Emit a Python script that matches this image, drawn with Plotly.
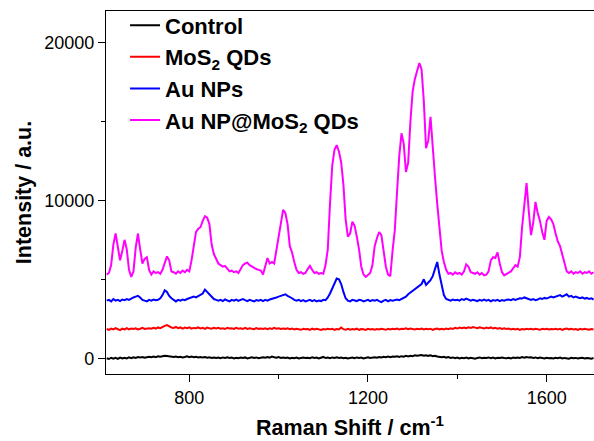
import plotly.graph_objects as go

# Raman shift grid (cm^-1), 5 cm^-1 steps
raman_shift = list(range(615, 1706, 5))

au_np_mos2 = [
    5300, 5400, 5900, 7200, 7900, 7100, 6200, 6800, 7500, 6900,   # 615
    5600, 5150, 5500, 7000, 7900, 6900, 6000, 6300, 6400, 5600,   # 665
    5300, 5500, 5400, 5450, 5350, 5600, 6100, 6450, 6200, 5500,   # 715
    5450, 5350, 5500, 5400, 5550, 5450, 5600, 5500, 6200, 7000,   # 765
    8000, 8200, 8300, 8700, 9000, 8900, 8500, 7200, 6600, 6300,   # 815
    6000, 5900, 5800, 5850, 5700, 5500, 5550, 5450, 5500, 5400,   # 865
    5650, 5900, 6000, 6050, 5900, 5800, 5750, 5650, 5600, 5550,   # 915
    5300, 5900, 6350, 6000, 6100, 6000, 6900, 7800, 8800, 9400,   # 965
    9200, 8500, 7100, 6700, 6100, 5600, 5400, 5450, 5350, 5400,   # 1015
    5650, 5850, 5600, 5400, 5450, 5350, 5400, 5350, 5900, 6900,   # 1065
    9800, 12200, 13200, 13500, 13100, 12400, 11000, 8800, 7700, 7900,  # 1115
    8650, 8400, 7700, 6900, 5800, 5300, 5150, 5300, 5400, 5900,   # 1165
    7100, 7600, 8000, 7800, 6900, 5800, 5300, 5200, 6800, 8100,   # 1215
    10500, 12800, 14250, 13600, 11800, 12400, 15000, 16900, 17700, 18300,  # 1265
    18700, 18300, 16300, 13300, 13800, 15300, 13200, 11500, 9800, 8000,    # 1315
    6800, 6100, 5600, 5350, 5400, 5300, 5450, 5350, 5400, 5300,   # 1365
    5500, 5950, 5800, 5450, 5400, 5350, 5450, 5300, 5400, 5250,   # 1415
    5300, 5500, 6200, 6400, 6350, 6700, 6000, 5450, 5250, 5350,   # 1465
    5450, 5500, 5700, 5900, 5800, 6400, 8300, 9800, 11100, 9300,  # 1515
    7800, 8600, 9900, 9200, 8700, 8000, 7500, 8700, 8950, 8800,   # 1565
    8500, 7900, 7400, 7100, 6500, 5900, 5500, 5400, 5500, 5350,   # 1615
    5450, 5400, 5500, 5350, 5450, 5400, 5500, 5350, 5450,         # 1665
]

au_nps = [
    3650, 3700, 3600, 3750, 3650, 3700, 3620, 3720, 3680, 3750,
    3700, 3800, 3850, 3900, 3950, 3850, 3700, 3650, 3600, 3700,
    3650, 3720, 3680, 3700, 3800, 4000, 4300, 4200, 3950, 3800,
    3680, 3600, 3700, 3650, 3720, 3680, 3750, 3800, 3850, 3900,
    3850, 3950, 4000, 4100, 4350, 4200, 4050, 3900, 3750, 3700,
    3650, 3700, 3620, 3720, 3680, 3600, 3700, 3650, 3720, 3640,
    3700, 3750, 3680, 3620, 3700, 3650, 3600, 3680, 3640, 3700,
    3620, 3700, 3650, 3720, 3750, 3800, 3850, 3900, 3950, 4000,
    4050, 3950, 3900, 3800, 3700, 3650, 3700, 3620, 3680, 3600,
    3650, 3700, 3620, 3680, 3600, 3650, 3620, 3700, 3680, 3850,
    4100, 4400, 4800, 5050, 5000, 4700, 4200, 3800, 3650, 3600,
    3700, 3650, 3620, 3700, 3680, 3600, 3650, 3700, 3620, 3680,
    3650, 3700, 3620, 3550, 3650, 3700, 3600, 3680, 3650, 3700,
    3720, 3680, 3750, 3800, 3900, 4050, 4150, 4250, 4350, 4500,
    4550, 4700, 5000, 4650, 4800, 4950, 5200, 5600, 6100, 5300,
    4600, 4000, 3750, 3700, 3650, 3720, 3680, 3700, 3650, 3750,
    3700, 3780, 3720, 3650, 3700, 3680, 3620, 3700, 3650, 3720,
    3650, 3700, 3600, 3680, 3650, 3700, 3620, 3680, 3650, 3700,
    3720, 3680, 3750, 3700, 3750, 3800, 3780, 3850, 3800, 3750,
    3700, 3750, 3680, 3720, 3800, 3750, 3820, 3780, 3850, 3900,
    3850, 3900, 3950, 4000, 3900, 3950, 4050, 3900, 3950, 3850,
    3900, 3850, 3800, 3850, 3780, 3820, 3750, 3800, 3720,
]

mos2_qds = [
    1850, 1800, 1880, 1820, 1900, 1850, 1780, 1870, 1830, 1900,
    1820, 1880, 1850, 1900, 1830, 1870, 1920, 1850, 1880, 1900,
    1870, 1930, 1880, 1950, 1900, 2000, 2050, 2100, 2000, 1950,
    1920, 1980, 1900, 1950, 1880, 1940, 1900, 1960, 1880, 1920,
    1900, 1950, 1880, 1920, 1860, 1940, 1900, 1870, 1930, 1880,
    1920, 1870, 1900, 1850, 1930, 1880, 1900, 1850, 1920, 1870,
    1900, 1860, 1920, 1850, 1900, 1870, 1840, 1910, 1860, 1880,
    1850, 1900, 1840, 1890, 1860, 1920, 1870, 1900, 1850, 1880,
    1860, 1900, 1840, 1880, 1820, 1870, 1850, 1800, 1860, 1830,
    1850, 1800, 1870, 1820, 1860, 1840, 1790, 1850, 1820, 1860,
    1830, 1870, 1800, 1850, 1820, 1950, 1840, 1800, 1860, 1810,
    1850, 1820, 1870, 1800, 1850, 1830, 1790, 1860, 1820, 1850,
    1800, 1850, 1820, 1870, 1830, 1800, 1860, 1820, 1870, 1840,
    1880, 1830, 1870, 1850, 1900, 1840, 1880, 1850, 1820, 1870,
    1840, 1880, 1820, 1860, 1830, 1870, 1800, 1850, 1880, 1830,
    1860, 1820, 1880, 1840, 1900, 1860, 1920, 1880, 1940, 1900,
    1950, 1900, 1960, 1920, 1980, 1940, 1900, 1960, 1920, 1880,
    1940, 1900, 1950, 1880, 1920, 1870, 1910, 1860, 1900, 1850,
    1880, 1830, 1870, 1820, 1860, 1800, 1850, 1820, 1870, 1830,
    1860, 1820, 1870, 1840, 1800, 1860, 1830, 1870, 1820, 1850,
    1830, 1870, 1820, 1860, 1800, 1850, 1880, 1830, 1860, 1820,
    1850, 1800, 1860, 1820, 1870, 1830, 1800, 1850, 1820,
]

control = [
    0, -50, 30, -30, 20, -40, 40, -20, 30, -10,
    50, 0, 60, 20, 70, 40, 80, 30, 60, 90,
    60, 100, 70, 120, 90, 130, 160, 140, 120, 100,
    80, 110, 60, 90, 50, 80, 120, 70, 100, 60,
    90, 50, 80, 40, 70, 30, 60, 20, 50, 10,
    40, 0, 50, 20, 60, 10, 40, -10, 30, 0,
    40, 10, 50, -10, 30, 60, 20, 50, 0, 40,
    60, 30, 80, 40, 100, 60, 30, 70, 20, 50,
    10, 40, -20, 30, 0, 40, -10, 20, 50, 10,
    30, 0, 60, 10, 40, -20, 30, 80, 10, 40,
    0, 50, 20, 60, 10, 40, 0, 30, -20, 20,
    40, 0, 50, 10, 40, -10, 30, 60, 20, 40,
    60, 30, 80, 50, 90, 60, 100, 70, 110, 90,
    120, 80, 130, 100, 150, 110, 160, 130, 180, 150,
    170, 200, 160, 190, 150, 180, 130, 160, 110, 90,
    60, 90, 40, 70, 20, 50, 0, 40, -10, 30,
    0, 40, -20, 30, 10, -30, 20, 50, 0, 30,
    10, 50, 0, 40, -20, 30, 10, 50, 20, 0,
    30, -10, 40, 10, 50, 20, 70, 30, 80, 40,
    60, 20, 50, 0, 40, 10, -20, 30, 0, 20,
    -10, 30, 0, 40, -20, 20, 10, -30, 30, 0,
    20, -20, 10, 30, -10, 20, 0, -30, 10,
]

series_names = ["<b>Control</b>", "<b>MoS<sub>2</sub> QDs</b>", "<b>Au NPs</b>",
                "<b>Au NP@MoS<sub>2</sub> QDs</b>"]
series_values = [control, mos2_qds, au_nps, au_np_mos2]
series_colors = ["#000000", "#ff0000", "#0000ff", "#ff00ff"]

x_ticks = [800, 1200, 1600]
x_tick_labels = ["800", "1200", "1600"]
y_ticks = [0, 10000, 20000]
y_tick_labels = ["0", "10000", "20000"]

fig = go.Figure()
for name, vals, col in zip(series_names, series_values, series_colors):
    fig.add_trace(go.Scatter(x=raman_shift, y=vals, mode="lines", name=name,
                             line=dict(color=col, width=2)))

font_family = "Liberation Sans, Arial, sans-serif"
fig.update_layout(
    width=594, height=441,
    margin=dict(l=106, r=0, t=11, b=67),
    paper_bgcolor="white", plot_bgcolor="white",
    font=dict(family=font_family, color="black"),
    showlegend=True,
    legend=dict(x=0.039, y=1.018, xanchor="left", yanchor="top",
                font=dict(size=22, family=font_family, color="black"),
                bgcolor="rgba(0,0,0,0)", tracegroupgap=0),
    xaxis=dict(range=[613.5, 1706], tickvals=x_ticks, ticktext=x_tick_labels,
               ticks="outside", ticklen=7,
               tickwidth=1, tickcolor="black", showline=True, linecolor="black",
               linewidth=1.3, mirror=True, showgrid=False, zeroline=False,
               tickfont=dict(size=18, family=font_family),
               minor=dict(tickvals=[1000, 1400], ticks="outside", ticklen=4,
                          tickcolor="black"),
               title=dict(text="<b>Raman Shift / cm<sup>-1</sup></b>",
                          font=dict(size=21.5, family=font_family), standoff=13)),
    yaxis=dict(range=[-1000, 22000], tickvals=y_ticks, ticktext=y_tick_labels,
               ticks="outside", ticklen=7,
               tickwidth=1, tickcolor="black", showline=True, linecolor="black",
               linewidth=1.3, mirror=False, showgrid=False, zeroline=False,
               tickfont=dict(size=18, family=font_family),
               minor=dict(tickvals=[5000, 15000], ticks="outside", ticklen=4,
                          tickcolor="black"),
               title=dict(text="<b>Intensity / a.u.</b>",
                          font=dict(size=21.5, family=font_family), standoff=6)),
)

fig.write_html("out.html")
